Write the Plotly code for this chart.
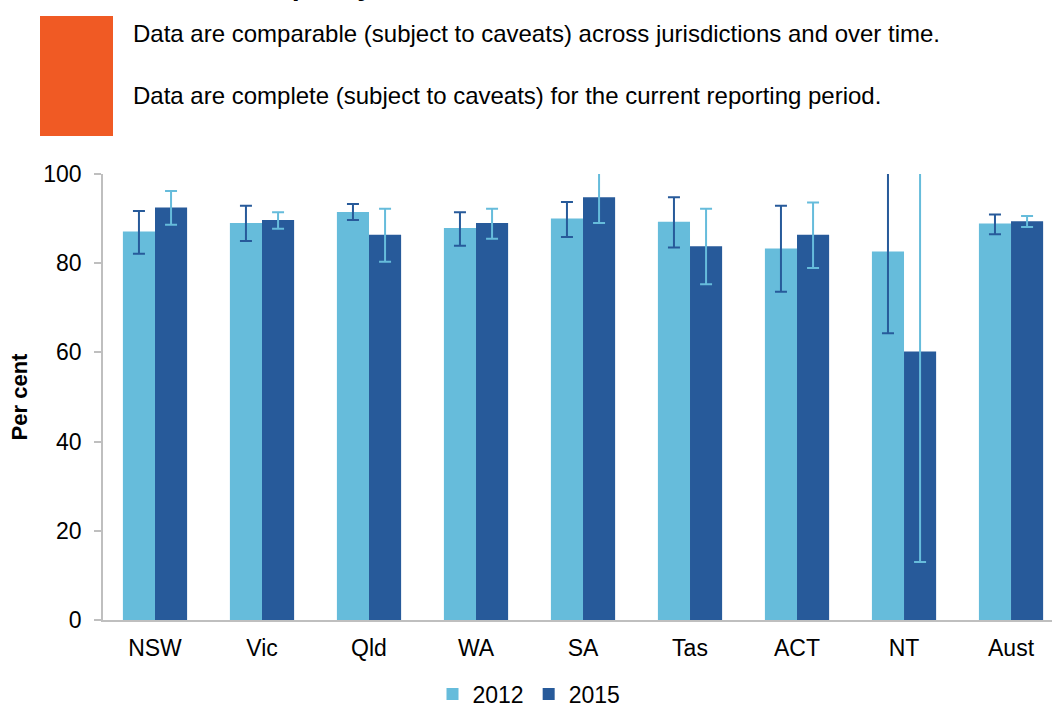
import plotly.graph_objects as go

categories = ["NSW", "Vic", "Qld", "WA", "SA", "Tas", "ACT", "NT", "Aust"]
v2012 = [87.1, 89.0, 91.5, 87.9, 90.0, 89.3, 83.3, 82.6, 88.9]
hi2012 = [91.7, 92.9, 93.3, 91.4, 93.7, 94.8, 92.9, 100.9, 90.9]
lo2012 = [82.1, 85.0, 89.7, 83.9, 85.9, 83.5, 73.6, 64.3, 86.5]
v2015 = [92.5, 89.7, 86.4, 89.0, 94.8, 83.8, 86.4, 60.2, 89.4]
hi2015 = [96.2, 91.4, 92.2, 92.2, 100.6, 92.2, 93.6, 107.4, 90.6]
lo2015 = [88.6, 87.7, 80.3, 85.5, 89.0, 75.3, 78.9, 13.0, 88.1]
y_ticks = [0, 20, 40, 60, 80, 100]

LIGHT = "#66BCDB"
DARK = "#275A9A"
FONT = "Liberation Sans, Arial, sans-serif"

fig = go.Figure()
fig.add_trace(go.Bar(
    name="2012", x=categories, y=v2012, marker=dict(color=LIGHT, line=dict(width=0)),
    error_y=dict(type="data", symmetric=False,
                 array=[h - v for h, v in zip(hi2012, v2012)],
                 arrayminus=[v - l for v, l in zip(v2012, lo2012)],
                 color=DARK, thickness=2, width=6),
))
fig.add_trace(go.Bar(
    name="2015", x=categories, y=v2015, marker=dict(color=DARK, line=dict(width=0)),
    error_y=dict(type="data", symmetric=False,
                 array=[h - v for h, v in zip(hi2015, v2015)],
                 arrayminus=[v - l for v, l in zip(v2015, lo2015)],
                 color=LIGHT, thickness=2, width=6),
))

W, H = 1052, 707
ml, mr, mt, mb = 103, 0, 174, 87
pw, ph = W - ml - mr, H - mt - mb

def px_x(p):
    return (p - ml) / pw

def px_y(p):
    return (H - mb - p) / ph

fig.update_layout(
    width=W, height=H,
    margin=dict(l=ml, r=mr, t=mt, b=mb, pad=0, autoexpand=False),
    paper_bgcolor="white", plot_bgcolor="white",
    font=dict(family=FONT, size=23, color="#000000"),
    barmode="group", bargap=0.4, bargroupgap=0,
    showlegend=True,
    legend=dict(orientation="h", xref="container", yref="container",
                x=529 / W, y=1 - 694 / H, xanchor="center", yanchor="middle",
                font=dict(size=23), itemwidth=30, tracegroupgap=0),
    xaxis=dict(type="category", range=[-0.486, 8.383], showline=True, linecolor="#BFBFBF",
               linewidth=1.5, ticks="", showgrid=False, zeroline=False,
               tickfont=dict(size=23), ticklabelstandoff=7),
    yaxis=dict(range=[0, 100], tickvals=y_ticks, showline=True, linecolor="#BFBFBF",
               linewidth=1.5, ticks="outside", ticklen=7, tickcolor="#BFBFBF", tickwidth=1.5,
               showgrid=False, zeroline=False, tickfont=dict(size=23), ticklabelstandoff=8,
               title=dict(text="<b>Per cent</b>", font=dict(size=22), standoff=10)),
)

# Orange marker blocks
fig.add_shape(type="rect", xref="paper", yref="paper",
              x0=px_x(40), x1=px_x(113), y0=px_y(78), y1=px_y(16),
              fillcolor="#F05A24", line=dict(width=0))
fig.add_shape(type="rect", xref="paper", yref="paper",
              x0=px_x(40), x1=px_x(113), y0=px_y(136), y1=px_y(76),
              fillcolor="#F05A24", line=dict(width=0))

fig.add_annotation(text="Data are comparable (subject to caveats) across jurisdictions and over time.",
                   xref="paper", yref="paper", x=px_x(131), y=px_y(33),
                   xanchor="left", yanchor="middle", showarrow=False,
                   font=dict(size=24, family=FONT))
fig.add_annotation(text="Data are complete (subject to caveats) for the current reporting period.",
                   xref="paper", yref="paper", x=px_x(131), y=px_y(95),
                   xanchor="left", yanchor="middle", showarrow=False,
                   font=dict(size=24, family=FONT))
fig.add_annotation(text="<b>Data quality information</b>",
                   xref="paper", yref="paper", x=px_x(212), y=px_y(3),
                   xanchor="left", yanchor="bottom", showarrow=False,
                   font=dict(size=28, family=FONT))

fig.write_html("out.html", config={"displayModeBar": False},
               post_script="document.body.style.margin='0';document.body.style.overflow='hidden';")
